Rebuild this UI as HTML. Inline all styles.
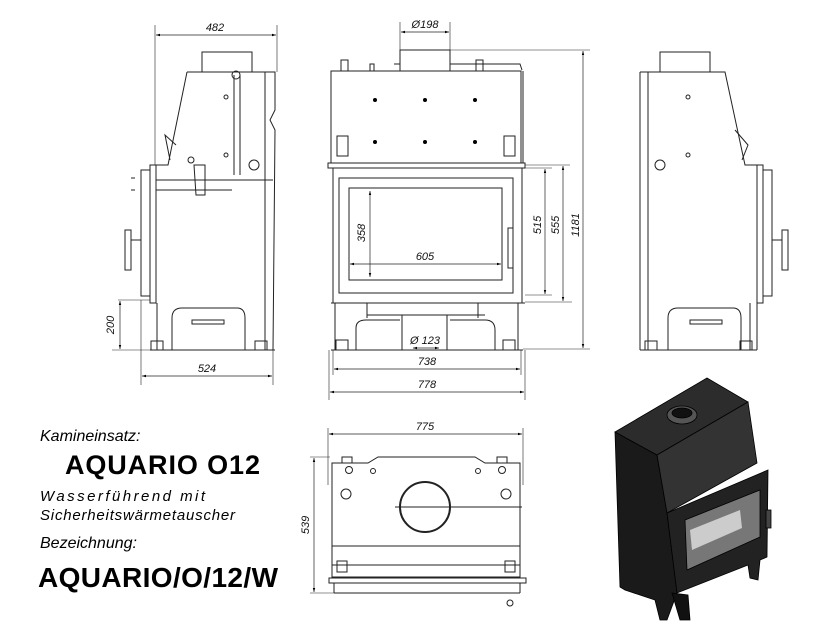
<!DOCTYPE html>
<html><head><meta charset="utf-8"><style>
html,body{margin:0;padding:0;background:#fff;}
svg{display:block}
text{font-family:"Liberation Sans",sans-serif;}
</style></head><body>
<svg width="814" height="639" viewBox="0 0 814 639" xmlns="http://www.w3.org/2000/svg">
<defs>
<marker id="a" viewBox="0 0 10 10" refX="10" refY="5" markerWidth="6" markerHeight="6" orient="auto-start-reverse"><path d="M0,2 L10,5 L0,8z" fill="#000"/></marker>
</defs>
<g fill="none" stroke="#222" stroke-width="1">
<!-- LEFT SIDE VIEW -->
<line x1="155" y1="25" x2="155" y2="165" stroke-width="0.6"/>
<line x1="277" y1="25" x2="277" y2="72" stroke-width="0.6"/>
<line x1="156" y1="35" x2="276" y2="35" marker-start="url(#a)" marker-end="url(#a)" stroke-width="0.7"/>
<rect x="202" y="52" width="50" height="20"/>
<path d="M187,72 L275,72 L275,110 L270,120 L275,130 L273,350"/>
<path d="M187,72 L168,165 L156,165"/>
<path d="M176,145 L165,135 L170,160"/>
<rect x="150" y="165" width="6" height="138"/>
<path d="M150,170 L141,170 L141,296 L150,296"/>
<rect x="125" y="230" width="6" height="40"/>
<line x1="131" y1="240" x2="141" y2="240"/>
<path d="M131,178 L135,178 M131,190 L135,190"/>
<line x1="156" y1="180" x2="273" y2="180"/>
<line x1="156" y1="190" x2="232" y2="190"/>
<line x1="265" y1="72" x2="265" y2="350"/>
<line x1="157" y1="303" x2="157" y2="350"/>
<path d="M172,350 L172,318 Q172,308 182,308 L237,308 Q245,308 245,318 L245,350"/>
<rect x="192" y="320" width="32" height="4"/>
<line x1="150" y1="350" x2="275" y2="350"/>
<rect x="151" y="341" width="12" height="9"/><rect x="255" y="341" width="12" height="9"/>
<path d="M234,75 L234,175 M240,75 L240,175"/>
<circle cx="236" cy="75" r="4"/><circle cx="254" cy="165" r="5"/>
<circle cx="191" cy="160" r="3"/><path d="M194,165 L205,165 L205,195 L196,195z"/>
<circle cx="226" cy="97" r="2"/><circle cx="226" cy="155" r="2"/>
<line x1="118" y1="300" x2="150" y2="300" stroke-width="0.6"/>
<line x1="120" y1="301" x2="120" y2="349" marker-start="url(#a)" marker-end="url(#a)" stroke-width="0.7"/>
<line x1="112" y1="350" x2="150" y2="350" stroke-width="0.6"/>
<line x1="141" y1="300" x2="141" y2="385" stroke-width="0.6"/>
<line x1="273" y1="350" x2="273" y2="385" stroke-width="0.6"/>
<line x1="142" y1="376" x2="272" y2="376" marker-start="url(#a)" marker-end="url(#a)" stroke-width="0.7"/>

<!-- FRONT VIEW -->
<line x1="400" y1="22" x2="400" y2="70" stroke-width="0.6"/>
<line x1="450" y1="22" x2="450" y2="70" stroke-width="0.6"/>
<line x1="401" y1="32" x2="449" y2="32" marker-start="url(#a)" marker-end="url(#a)" stroke-width="0.7"/>
<rect x="400" y="50" width="50" height="21"/>
<path d="M394,64 L400,64 L400,70 M450,64 L520,64 L522,70"/>
<rect x="341" y="60" width="7" height="11"/><rect x="370" y="64" width="4" height="7"/><rect x="476" y="60" width="7" height="11"/>
<rect x="331" y="71" width="190" height="92"/>
<line x1="523" y1="71" x2="523" y2="163"/>
<rect x="337" y="136" width="11" height="20"/><rect x="504" y="136" width="11" height="20"/>
<g fill="#000" stroke="none">
<circle cx="375" cy="100" r="2"/><circle cx="425" cy="100" r="2"/><circle cx="475" cy="100" r="2"/>
<circle cx="375" cy="142" r="2"/><circle cx="425" cy="142" r="2"/><circle cx="475" cy="142" r="2"/>
</g>
<rect x="328" y="163" width="197" height="5"/>
<rect x="333" y="168" width="189" height="135"/>
<rect x="339" y="178" width="174" height="115"/>
<rect x="349" y="188" width="153" height="92"/>
<rect x="508" y="228" width="5" height="40"/>
<line x1="331" y1="303" x2="525" y2="303"/>
<path d="M367,303 L367,318 M478,303 L478,318 M367,315 L485,315"/>
<rect x="402" y="315" width="45" height="35"/>
<path d="M356,350 L356,328 Q356,320 366,320 L400,320 M450,320 L485,320 Q495,320 495,330 L495,350"/>
<line x1="335" y1="303" x2="335" y2="350"/><line x1="518" y1="303" x2="518" y2="350"/>
<rect x="336" y="340" width="12" height="10"/><rect x="503" y="340" width="12" height="10"/>
<line x1="331" y1="350" x2="523" y2="350"/>
<line x1="413" y1="348" x2="439" y2="348" marker-start="url(#a)" marker-end="url(#a)" stroke-width="0.7"/>
<line x1="370" y1="191" x2="370" y2="277" marker-start="url(#a)" marker-end="url(#a)" stroke-width="0.7"/>
<line x1="350" y1="264" x2="501" y2="264" marker-start="url(#a)" marker-end="url(#a)" stroke-width="0.7"/>
<line x1="525" y1="165" x2="570" y2="165" stroke-width="0.6"/>
<line x1="525" y1="168" x2="552" y2="168" stroke-width="0.6"/>
<line x1="525" y1="302" x2="572" y2="302" stroke-width="0.6"/>
<line x1="525" y1="295" x2="552" y2="295" stroke-width="0.6"/>
<line x1="545" y1="169" x2="545" y2="294" marker-start="url(#a)" marker-end="url(#a)" stroke-width="0.7"/>
<line x1="563" y1="166" x2="563" y2="301" marker-start="url(#a)" marker-end="url(#a)" stroke-width="0.7"/>
<line x1="450" y1="50" x2="590" y2="50" stroke-width="0.6"/>
<line x1="523" y1="349" x2="590" y2="349" stroke-width="0.6"/>
<line x1="583" y1="51" x2="583" y2="348" marker-start="url(#a)" marker-end="url(#a)" stroke-width="0.7"/>
<line x1="333" y1="350" x2="333" y2="375" stroke-width="0.6"/>
<line x1="521" y1="350" x2="521" y2="375" stroke-width="0.6"/>
<line x1="329" y1="350" x2="329" y2="400" stroke-width="0.6"/>
<line x1="525" y1="350" x2="525" y2="400" stroke-width="0.6"/>
<line x1="334" y1="369" x2="520" y2="369" marker-start="url(#a)" marker-end="url(#a)" stroke-width="0.7"/>
<line x1="330" y1="392" x2="524" y2="392" marker-start="url(#a)" marker-end="url(#a)" stroke-width="0.7"/>

<!-- RIGHT SIDE VIEW -->
<rect x="660" y="52" width="50" height="20"/>
<path d="M640,72 L725,72 L745,165 L757,165 L757,350 M640,72 L640,350"/>
<path d="M735,130 L748,145 L742,160"/>
<rect x="757" y="165" width="6" height="138"/>
<path d="M763,170 L772,170 L772,296 L763,296"/>
<rect x="782" y="230" width="6" height="40"/><line x1="772" y1="240" x2="782" y2="240"/>
<line x1="648" y1="72" x2="648" y2="350"/><line x1="750" y1="303" x2="750" y2="350"/>
<path d="M668,350 L668,318 Q668,308 678,308 L733,308 Q741,308 741,318 L741,350"/>
<rect x="690" y="320" width="32" height="4"/>
<line x1="640" y1="350" x2="757" y2="350"/>
<rect x="645" y="341" width="12" height="9"/><rect x="740" y="341" width="12" height="9"/>
<circle cx="660" cy="165" r="5"/>
<circle cx="688" cy="97" r="2"/><circle cx="688" cy="155" r="2"/>

<!-- PLAN VIEW -->
<line x1="328" y1="428" x2="328" y2="485" stroke-width="0.6"/>
<line x1="523" y1="428" x2="523" y2="485" stroke-width="0.6"/>
<line x1="329" y1="434" x2="522" y2="434" marker-start="url(#a)" marker-end="url(#a)" stroke-width="0.7"/>
<path d="M332,463 L368,463 L378,457 L475,457 L485,463 L520,463 L520,577 L332,577z"/>
<rect x="342" y="457" width="10" height="6"/><rect x="497" y="457" width="10" height="6"/>
<circle cx="349" cy="470" r="3.5"/><circle cx="373" cy="471" r="2.5"/><circle cx="478" cy="471" r="2.5"/><circle cx="502" cy="470" r="3.5"/>
<circle cx="346" cy="494" r="5"/><circle cx="506" cy="494" r="5"/>
<circle cx="425" cy="507" r="25" stroke-width="2"/>
<line x1="395" y1="507" x2="522" y2="507"/>
<line x1="332" y1="546" x2="520" y2="546"/>
<line x1="332" y1="565" x2="520" y2="565"/>
<rect x="337" y="561" width="10" height="11"/><rect x="505" y="561" width="10" height="11"/>
<rect x="329" y="578" width="197" height="5"/>
<line x1="334" y1="583" x2="334" y2="593"/><line x1="520" y1="583" x2="520" y2="593"/>
<line x1="334" y1="593" x2="520" y2="593"/>
<circle cx="510" cy="603" r="3"/>
<line x1="310" y1="457" x2="330" y2="457" stroke-width="0.6"/>
<line x1="310" y1="593" x2="334" y2="593" stroke-width="0.6"/>
<line x1="314" y1="458" x2="314" y2="592" marker-start="url(#a)" marker-end="url(#a)" stroke-width="0.7"/>
</g>

<g font-size="11" font-style="italic" fill="#111" text-anchor="middle">
<text x="215" y="31">482</text>
<text x="425" y="28">Ø198</text>
<text x="207" y="372">524</text>
<text x="427" y="365">738</text>
<text x="427" y="388">778</text>
<text x="425" y="344">Ø 123</text>
<text x="425" y="260">605</text>
<text x="425" y="430">775</text>
<text transform="translate(114,325) rotate(-90)">200</text>
<text transform="translate(365,233) rotate(-90)">358</text>
<text transform="translate(541,225) rotate(-90)">515</text>
<text transform="translate(559,225) rotate(-90)">555</text>
<text transform="translate(579,225) rotate(-90)">1181</text>
<text transform="translate(309,525) rotate(-90)">539</text>
</g>

<!-- 3D render -->
<g stroke="#000" stroke-width="0.8">
<path d="M615,432 L657,455 L667,513 L677,593 L667,620 L660,620 L655,600 L625,590 L620,587z" fill="#1a1a1a"/>
<path d="M615,432 L707,378 L748,402 L657,455z" fill="#2c2c2c"/>
<path d="M657,455 L748,402 L757,463 L667,513z" fill="#333"/>
<path d="M667,513 L768,470 L767,557 L760,560 L758,580 L750,578 L748,565 L677,593z" fill="#222"/>
<path d="M685,520 L760,490 L760,537 L687,570z" fill="#777"/>
<path d="M690,530 L740,510 L742,528 L692,550z" fill="#ccc" stroke="none"/>
<path d="M672,593 L680,620 L690,620 L688,595z" fill="#111"/>
<ellipse cx="682" cy="415" rx="15" ry="9" fill="#555"/>
<ellipse cx="682" cy="413" rx="10" ry="5" fill="#111"/>
<rect x="766" y="510" width="5" height="18" fill="#444"/>
</g>

<g fill="#000">
<text x="40" y="441" font-size="16" font-style="italic">Kamineinsatz:</text>
<text x="65" y="474" font-size="27" font-weight="bold" textLength="195">AQUARIO O12</text>
<text x="40" y="501" font-size="15" font-style="italic" textLength="165">Wasserführend mit</text>
<text x="40" y="520" font-size="15" font-style="italic" textLength="195">Sicherheitswärmetauscher</text>
<text x="40" y="548" font-size="16" font-style="italic">Bezeichnung:</text>
<text x="38" y="587" font-size="28" font-weight="bold" textLength="240">AQUARIO/O/12/W</text>
</g>
</svg>
</body></html>
